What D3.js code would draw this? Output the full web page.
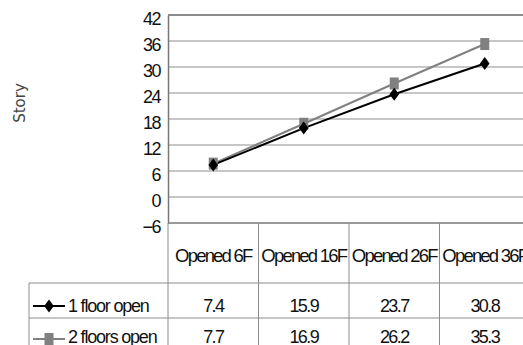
<!DOCTYPE html>
<html>
<head>
<meta charset="utf-8">
<script src="https://cdn.jsdelivr.net/npm/d3@7"></script>
<style>
  html, body { margin: 0; padding: 0; background: #fff; }
  svg { display: block; }
  .lbl { font-family: "Liberation Sans", Arial, sans-serif; fill: #111; }
</style>
</head>
<body>
<svg id="chart" width="523" height="345"></svg>
<script>
// Chart data
const categories = ["Opened 6F", "Opened 16F", "Opened 26F", "Opened 36F"];
const seriesNames = ["1 floor open", "2 floors open"];
const oneFloor = [7.4, 15.9, 23.7, 30.8];
const twoFloors = [7.7, 16.9, 26.2, 35.3];
const yTicks = [-6, 0, 6, 12, 18, 24, 30, 36, 42];
const yLabel = "Story";

const series = [
  { name: seriesNames[0], values: oneFloor, color: "#000000", marker: "diamond" },
  { name: seriesNames[1], values: twoFloors, color: "#808080", marker: "square" }
];

const svg = d3.select("#chart");
const W = 523, H = 345;
const plot = { left: 168, top: 15, bottom: 223, colW: 90.5 };
const rowHeader = 283, row1 = 318, tableLeft = 29;

const x = d3.scaleBand().domain(categories)
  .range([plot.left, plot.left + plot.colW * categories.length]).padding(0);
const y = d3.scaleLinear().domain([-6, 42]).range([plot.bottom, plot.top]);

// Horizontal gridlines
svg.append("g").selectAll("line").data(yTicks.filter(t => t !== -6 && t !== 42)).join("line")
  .attr("x1", plot.left).attr("x2", W)
  .attr("y1", d => y(d)).attr("y2", d => y(d))
  .attr("stroke", "#b4b4b4").attr("stroke-width", 1.5);
// top border
svg.append("line").attr("x1", plot.left).attr("x2", W)
  .attr("y1", y(42)).attr("y2", y(42)).attr("stroke", "#8c8c8c").attr("stroke-width", 2);

// Y axis
const yAxis = d3.axisLeft(y).tickValues(yTicks).tickSize(0).tickPadding(8)
  .tickFormat(d => d < 0 ? "\u2212" + Math.abs(d) : d);
const ya = svg.append("g").attr("transform", `translate(${plot.left},0)`).call(yAxis);
ya.select(".domain").attr("stroke", "#777").attr("stroke-width", 1.5);
ya.selectAll("text").attr("class", "lbl").attr("font-size", 18)
  .attr("letter-spacing", -1.5).attr("dy", "0.55em").attr("x", -8)
  .attr("fill", "#111").style("font-family", "'Liberation Sans', Arial, sans-serif");

// Y label
svg.append("text")
  .attr("transform", "translate(25,103) rotate(-90)")
  .attr("text-anchor", "middle")
  .attr("font-family", "'DejaVu Sans', 'Noto Sans', sans-serif")
  .attr("font-size", 15).attr("fill", "#444").text(yLabel);

// Table grid
const gridC = "#8c8c8c";
svg.append("line").attr("x1", plot.left).attr("x2", W).attr("y1", plot.bottom).attr("y2", plot.bottom)
  .attr("stroke", "#777").attr("stroke-width", 1.5);
svg.append("g").selectAll("line").data(categories).join("line")
  .attr("x1", d => x(d)).attr("x2", d => x(d))
  .attr("y1", plot.bottom).attr("y2", H)
  .attr("stroke", gridC).attr("stroke-width", 1);
svg.append("g").selectAll("line").data([rowHeader, row1]).join("line")
  .attr("x1", tableLeft).attr("x2", W).attr("y1", d => d).attr("y2", d => d)
  .attr("stroke", gridC).attr("stroke-width", 1);
svg.append("line").attr("x1", tableLeft).attr("x2", tableLeft).attr("y1", rowHeader).attr("y2", H)
  .attr("stroke", gridC).attr("stroke-width", 1);

// Category header texts
svg.append("g").selectAll("text").data(categories).join("text")
  .attr("class", "lbl")
  .attr("x", d => x(d) + x.bandwidth() / 2).attr("y", 262)
  .attr("text-anchor", "middle").attr("font-size", 18.5).attr("letter-spacing", -1.8)
  .text(d => d);

// Marker drawing
function drawMarker(g, kind, color, cx, cy) {
  if (kind === "diamond") {
    g.append("path")
      .attr("d", `M${cx},${cy - 6.5}L${cx + 4.8},${cy}L${cx},${cy + 6.5}L${cx - 4.8},${cy}Z`)
      .attr("fill", color);
  } else {
    g.append("rect").attr("x", cx - 4.5).attr("y", cy - 6).attr("width", 9).attr("height", 12)
      .attr("fill", color);
  }
}

// Series lines and markers
const line = d3.line().x((d, i) => x(categories[i]) + x.bandwidth() / 2).y(d => y(d));
series.slice().reverse().forEach(s => {
  svg.append("path").datum(s.values).attr("d", line)
    .attr("fill", "none").attr("stroke", s.color).attr("stroke-width", 2);
});
series.slice().reverse().forEach(s => {
  const g = svg.append("g");
  s.values.forEach((v, i) => drawMarker(g, s.marker, s.color, x(categories[i]) + x.bandwidth() / 2, y(v)));
});

// Table rows: legend key + values
const rowBase = [312, 343];
const keyY = [306, 339];
series.forEach((s, r) => {
  const g = svg.append("g");
  g.append("line").attr("x1", 33).attr("x2", 65).attr("y1", keyY[r]).attr("y2", keyY[r])
    .attr("stroke", s.color).attr("stroke-width", 2);
  drawMarker(g, s.marker, s.color, 49, keyY[r]);
  g.append("text").attr("class", "lbl").attr("x", 68).attr("y", rowBase[r])
    .attr("font-size", 18).attr("letter-spacing", -1.2).text(s.name);
  g.selectAll("text.v").data(s.values).join("text")
    .attr("class", "lbl v")
    .attr("x", (d, i) => x(categories[i]) + x.bandwidth() / 2).attr("y", rowBase[r])
    .attr("text-anchor", "middle").attr("font-size", 18).attr("letter-spacing", -1.6)
    .text(d => d.toFixed(1));
});
</script>
</body>
</html>
